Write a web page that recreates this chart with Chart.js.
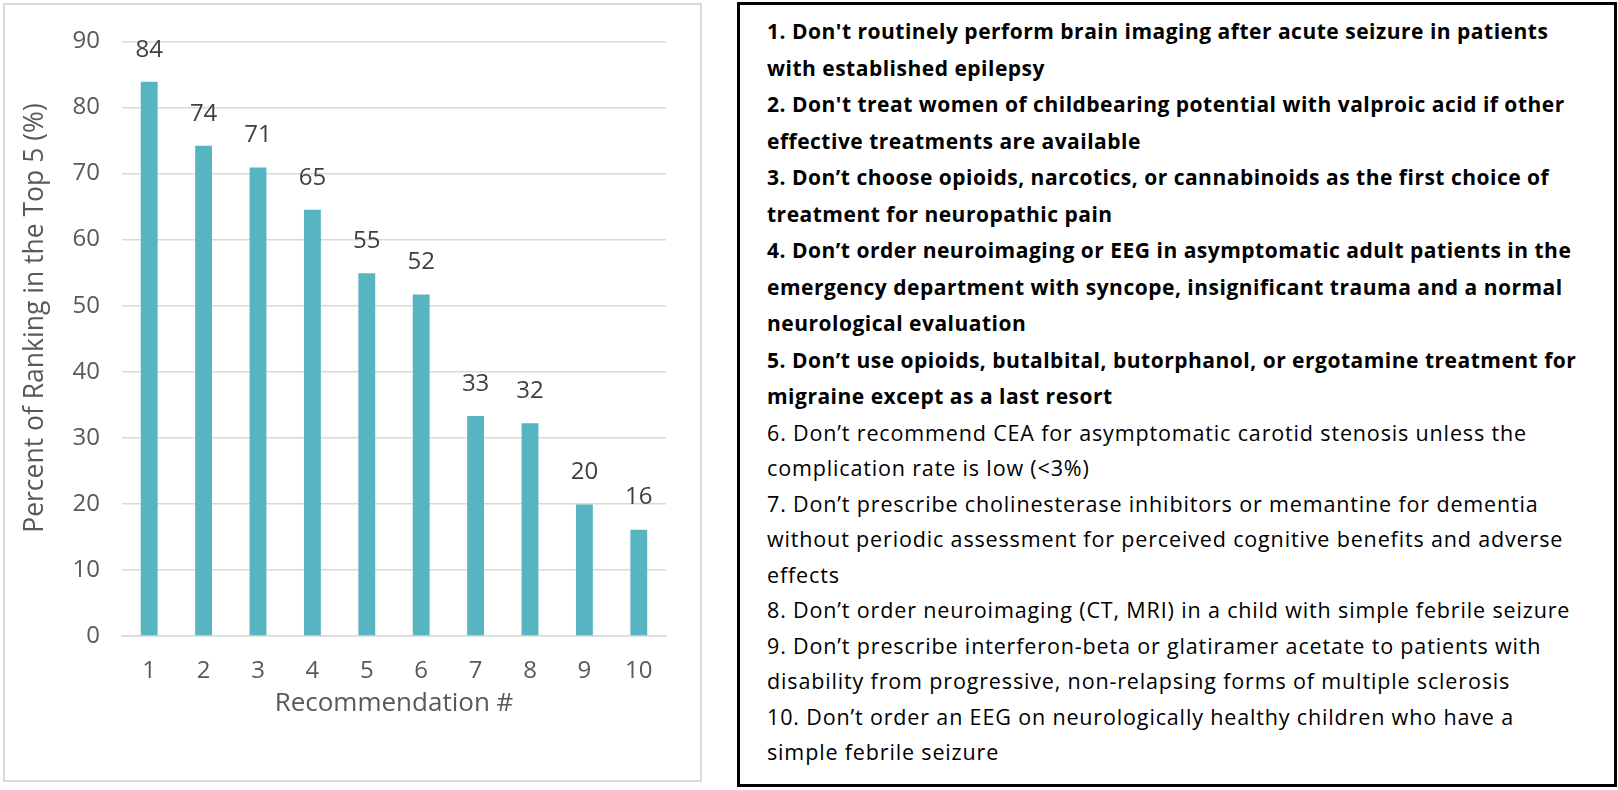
<!DOCTYPE html>
<html>
<head>
<meta charset="utf-8">
<script src="https://cdn.jsdelivr.net/npm/chart.js@4"></script>
<style>
    html, body { margin: 0; padding: 0; background: #fff; }
    body { width: 1618px; height: 790px; position: relative; overflow: hidden; }
    #chart-box { position: absolute; left: 3px; top: 3px; width: 699px; height: 779px; border: 2px solid #d9d9d9; box-sizing: border-box; }
    #list-box { position: absolute; left: 737px; top: 2px; width: 880px; height: 785px; border: 3px solid #000; box-sizing: border-box;
        padding: 8px 0 0 27px; font-family: "Open Sans", sans-serif; font-size: 21.5px; letter-spacing: 0.85px;
        line-height: 35.5px; color: #000; white-space: nowrap; }
    #list-box b { font-weight: 700; font-size: 21px; letter-spacing: 0.5px; }
</style>
</head>
<body>
<div id="chart-box"><canvas id="rankChart"></canvas></div>
<div id="list-box">
<b>1. Don't routinely perform brain imaging after acute seizure in patients<br>
with established epilepsy<br>
2. Don't treat women of childbearing potential with valproic acid if other<br>
effective treatments are available<br>
3. Don’t choose opioids, narcotics, or cannabinoids as the first choice of<br>
treatment for neuropathic pain<br>
4. Don’t order neuroimaging or EEG in asymptomatic adult patients in the<br>
emergency department with syncope, insignificant trauma and a normal<br>
neurological evaluation<br>
5. Don’t use opioids, butalbital, butorphanol, or ergotamine treatment for<br>
migraine except as a last resort</b><br>
6. Don’t recommend CEA for asymptomatic carotid stenosis unless the<br>
complication rate is low (&lt;3%)<br>
7. Don’t prescribe cholinesterase inhibitors or memantine for dementia<br>
without periodic assessment for perceived cognitive benefits and adverse<br>
effects<br>
8. Don’t order neuroimaging (CT, MRI) in a child with simple febrile seizure<br>
9. Don’t prescribe interferon-beta or glatiramer acetate to patients with<br>
disability from progressive, non-relapsing forms of multiple sclerosis<br>
10. Don’t order an EEG on neurologically healthy children who have a<br>
simple febrile seizure
</div>
<script>
(function () {
    'use strict';

    // data
    var categories = ['1', '2', '3', '4', '5', '6', '7', '8', '9', '10'];
    var percentTop5 = [83.9, 74.2, 70.9, 64.5, 54.9, 51.7, 33.3, 32.2, 19.9, 16.1];
    var yTicks = [0, 10, 20, 30, 40, 50, 60, 70, 80, 90];

    var barColor = '#57b5c1';
    var textColor = '#595959';
    var gridColor = '#d9d9d9';
    var fontFamily = '"Open Sans", sans-serif';

    // value labels above the bars
    var barLabels = {
        id: 'barLabels',
        afterDatasetsDraw: function (chart) {
            var ctx = chart.ctx;
            var meta = chart.getDatasetMeta(0);
            ctx.save();
            ctx.fillStyle = '#404040';
            ctx.font = '24px ' + fontFamily;
            ctx.textAlign = 'center';
            ctx.textBaseline = 'middle';
            meta.data.forEach(function (bar, i) {
                ctx.fillText(String(Math.round(percentTop5[i])), bar.x, bar.y - 32);
            });
            ctx.restore();
        }
    };

    // the original y title sits a bit above the plot centre; leading spaces nudge it up
    var yTitle = '\u00a0\u00a0\u00a0\u00a0\u00a0\u00a0' + 'Percent of Ranking in the Top 5 (%)';

    new Chart(document.getElementById('rankChart').getContext('2d'), {
        type: 'bar',
        data: {
            labels: categories,
            datasets: [{
                data: percentTop5,
                backgroundColor: barColor,
                categoryPercentage: 1,
                barPercentage: 0.31
            }]
        },
        options: {
            responsive: true,
            maintainAspectRatio: false,
            animation: false,
            layout: { padding: { top: 34, right: 34, bottom: 0, left: 0 } },
            plugins: {
                legend: { display: false },
                tooltip: { enabled: false }
            },
            scales: {
                x: {
                    afterFit: function (axis) { axis.height = 144; },
                    grid: { display: false },
                    border: { color: gridColor, width: 1.5 },
                    ticks: { color: textColor, font: { family: fontFamily, size: 24 }, padding: 13 },
                    title: { display: true, text: 'Recommendation #', color: textColor,
                             font: { family: fontFamily, size: 26 }, padding: { top: 0, bottom: 61 } }
                },
                y: {
                    min: 0,
                    max: 90,
                    afterFit: function (axis) { axis.width = 117; },
                    afterBuildTicks: function (axis) {
                        axis.ticks = yTicks.map(function (v) { return { value: v }; });
                    },
                    grid: { color: gridColor, lineWidth: 1.5, drawTicks: false },
                    border: { display: false },
                    ticks: { color: textColor, font: { family: fontFamily, size: 24 }, padding: 22 },
                    title: { display: true, text: yTitle, color: textColor,
                             font: { family: fontFamily, size: 26.5 }, padding: { top: 15, bottom: 0 } }
                }
            }
        },
        plugins: [barLabels]
    });
})();
</script>
</body>
</html>
